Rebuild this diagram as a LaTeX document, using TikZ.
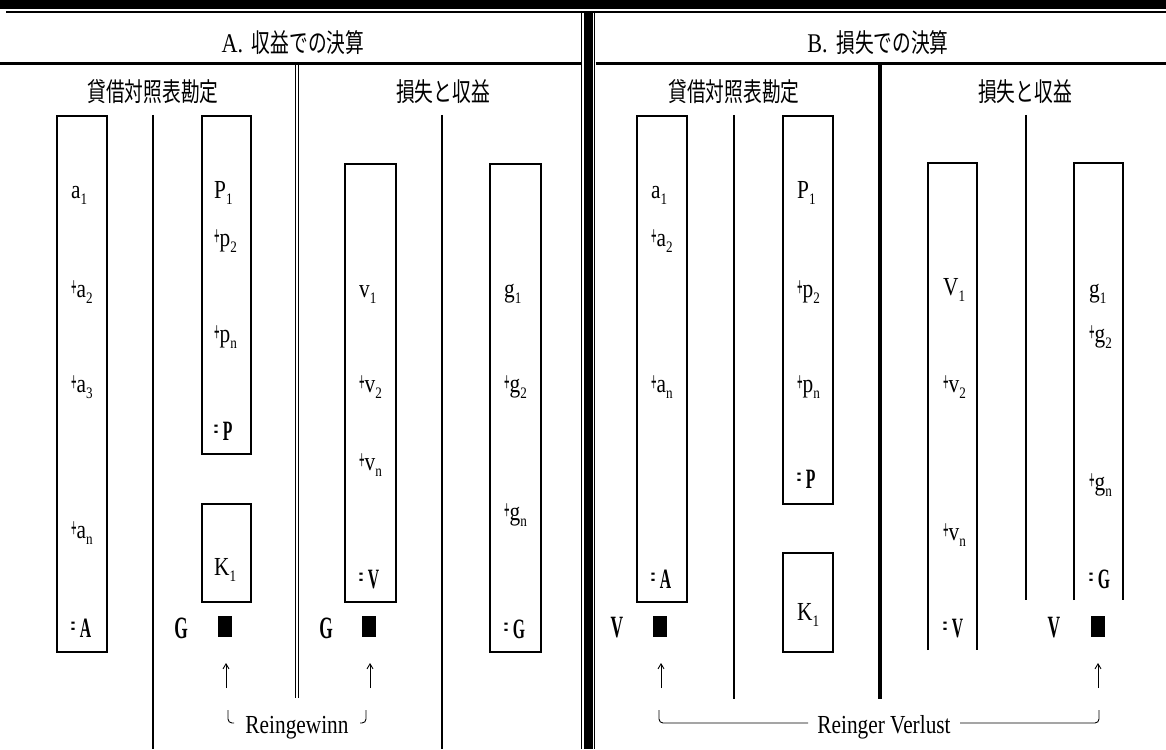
\documentclass[tikz,border=0pt]{standalone}
\usepackage{fontspec}
\newfontfamily\lat[FakeStretch=0.82]{Liberation Serif}
\newfontfamily\latb[FakeStretch=0.56]{Liberation Serif}
\newfontfamily\cjk[FakeStretch=0.72]{Noto Sans CJK JP}
\usetikzlibrary{arrows.meta}
\newcommand\lsub[1]{\raisebox{-6pt}{\fontsize{16}{16}\selectfont #1}}
\newcommand\lplus{\raisebox{1pt}{\scalebox{0.42}[1.0]{\fontsize{28}{28}\selectfont\bfseries +}}}
\newcommand\myeq{\raisebox{1pt}{\scalebox{0.45}[1.1]{\fontsize{28}{28}\selectfont =}}\,}
\tikzset{
  lab/.style={anchor=base west, inner sep=0pt, font=\lat\fontsize{26}{26}\selectfont},
  tot/.style={anchor=base west, inner sep=0pt, font=\latb\bfseries\fontsize{28}{28}\selectfont},
  bigl/.style={anchor=base, inner sep=0pt, font=\latb\bfseries\fontsize{31}{31}\selectfont},
  hdr/.style={inner sep=0pt, font=\cjk\fontsize{26}{26}\selectfont},
  brtext/.style={anchor=base, inner sep=0pt, font=\lat\fontsize{26}{26}\selectfont},
  acct/.style={draw, line width=2.2pt, inner sep=0pt, anchor=north west},
  rulel/.style={line width=2pt},
  sq/.style={fill=black, inner sep=0pt, minimum width=14pt, minimum height=21pt},
  arr/.style={line width=0.9pt, -{Straight Barb[length=5pt,width=6pt]}},
  brk/.style={line width=0.9pt, rounded corners=4pt}
}
\begin{document}
\begin{tikzpicture}[x=1pt,y=-1pt]
\useasboundingbox (0,0) rectangle (1166,749);
% frame rules
\fill (0,0) rectangle (1166,9);
\draw[line width=2pt] (6,12) -- (1166,12);
\draw[line width=3.5pt] (0,63.5) -- (580.5,63.5);
\draw[line width=3.5pt] (595.5,63.5) -- (1166,63.5);
\draw[line width=1.4pt] (581.3,12) -- (581.3,749);
\fill (584,12) rectangle (592.7,749);
\draw[line width=1.4pt] (594.7,12) -- (594.7,749);
% section dividers
\draw[line width=1.4pt] (295.3,65) -- (295.3,698);
\draw[line width=1.4pt] (298.5,65) -- (298.5,698);
\draw[line width=4.5pt] (880,65) -- (880,699);
% titles
\node[hdr] (tA) at (293,43) {{\lat\fontsize{27}{27}\selectfont A.}\,\,収益での決算};
\node[hdr] (tB) at (878,43) {{\lat\fontsize{27}{27}\selectfont B.}\,\,損失での決算};
\node[hdr] (hA1) at (153,92) {貸借対照表勘定};
\node[hdr] (hA2) at (443,92) {損失と収益};
\node[hdr] (hB1) at (734,92) {貸借対照表勘定};
\node[hdr] (hB2) at (1025,92) {損失と収益};
% inner vertical lines
\draw[rulel] (153,115) -- (153,749);
\draw[rulel] (442,115) -- (442,749);
\draw[rulel] (734,115) -- (734,699);
\draw[rulel] (1026,115) -- (1026,600);
% ---------- A ----------
\node[acct, minimum width=50pt, minimum height=536pt] (Aa) at (56,115) {};
\node[acct, minimum width=49pt, minimum height=338pt] (AP) at (201,115) {};
\node[acct, minimum width=49pt, minimum height=98pt] (AK) at (201,503) {};
\node[acct, minimum width=51pt, minimum height=438pt] (Av) at (344,163) {};
\node[acct, minimum width=51pt, minimum height=488pt] (Ag) at (489,163) {};
\node[lab] (Aa1) at (71,198) {a\lsub{1}};
\node[lab] (Aa2) at (71,297) {\lplus a\lsub{2}};
\node[lab] (Aa3) at (71,392) {\lplus a\lsub{3}};
\node[lab] (Aan) at (71,538) {\lplus a\lsub{n}};
\node[tot] (AA) at (71,637) {\myeq A};
\node[lab] (Ap1) at (214,198) {P\lsub{1}};
\node[lab] (Ap2) at (214,246) {\lplus p\lsub{2}};
\node[lab] (Apn) at (214,342) {\lplus p\lsub{n}};
\node[tot] (APt) at (214,440) {\myeq P};
\node[lab] (AK1) at (214,575) {K\lsub{1}};
\node[lab] (Av1) at (359,297) {v\lsub{1}};
\node[lab] (Av2) at (359,392) {\lplus v\lsub{2}};
\node[lab] (Avn) at (359,470) {\lplus v\lsub{n}};
\node[tot] (AVt) at (359,588) {\myeq V};
\node[lab] (Ag1) at (504,297) {g\lsub{1}};
\node[lab] (Ag2) at (504,392) {\lplus g\lsub{2}};
\node[lab] (Agn) at (504,520) {\lplus g\lsub{n}};
\node[tot] (AGt) at (504,638) {\myeq G};
\node[bigl] (AG1) at (181,638) {G};
\node[sq] (As1) at (225,626.5) {};
\node[bigl] (AG2) at (326,638) {G};
\node[sq] (As2) at (369,626.5) {};
\coordinate (Aar1t) at (226,688); \coordinate (Aar1h) at (226,663);
\coordinate (Aar2t) at (370,688); \coordinate (Aar2h) at (370,663);
\draw[arr] (Aar1t) -- (Aar1h);
\draw[arr] (Aar2t) -- (Aar2h);
\node[brtext] (RG) at (297,733) {Reingewinn};
\coordinate (Ab1) at (228,710); \coordinate (Ab1e) at (234,723);
\coordinate (Ab2) at (366,710); \coordinate (Ab2e) at (360,723);
\draw[brk] (Ab1) |- (Ab1e);
\draw[brk] (Ab2) |- (Ab2e);
% ---------- B ----------
\node[acct, minimum width=50pt, minimum height=486pt] (Ba) at (636,115) {};
\node[acct, minimum width=50pt, minimum height=388pt] (BP) at (782,115) {};
\node[acct, minimum width=50pt, minimum height=99pt] (BK) at (782,552) {};
\draw[line width=2.2pt] (928,650) -- (928,163) -- (977,163) -- (977,650);
\draw[line width=2.2pt] (1074,600) -- (1074,163) -- (1123,163) -- (1123,600);
\node[lab] (Ba1) at (651,198) {a\lsub{1}};
\node[lab] (Ba2) at (651,246) {\lplus a\lsub{2}};
\node[lab] (Ban) at (651,392) {\lplus a\lsub{n}};
\node[tot] (BA) at (651,588) {\myeq A};
\node[lab] (Bp1) at (797,198) {P\lsub{1}};
\node[lab] (Bp2) at (797,297) {\lplus p\lsub{2}};
\node[lab] (Bpn) at (797,392) {\lplus p\lsub{n}};
\node[tot] (BPt) at (797,488) {\myeq P};
\node[lab] (BK1) at (797,620) {K\lsub{1}};
\node[lab] (Bv1) at (943,295) {V\lsub{1}};
\node[lab] (Bv2) at (943,392) {\lplus v\lsub{2}};
\node[lab] (Bvn) at (943,540) {\lplus v\lsub{n}};
\node[tot] (BVt) at (943,637) {\myeq V};
\node[lab] (Bg1) at (1089,297) {g\lsub{1}};
\node[lab] (Bg2) at (1089,342) {\lplus g\lsub{2}};
\node[lab] (Bgn) at (1089,490) {\lplus g\lsub{n}};
\node[tot] (BGt) at (1089,588) {\myeq G};
\node[bigl] (BV1) at (617,637) {V};
\node[sq] (Bs1) at (660,626.5) {};
\node[bigl] (BV2) at (1054,637) {V};
\node[sq] (Bs2) at (1098,626.5) {};
\coordinate (Bar1t) at (661,688); \coordinate (Bar1h) at (661,663);
\coordinate (Bar2t) at (1098,688); \coordinate (Bar2h) at (1098,663);
\draw[arr] (Bar1t) -- (Bar1h);
\draw[arr] (Bar2t) -- (Bar2h);
\node[brtext] (RV) at (884,733) {Reinger Verlust};
\coordinate (Bb1) at (659,710); \coordinate (Bb1e) at (808,723);
\coordinate (Bb2) at (1099,710); \coordinate (Bb2e) at (960,723);
\draw[brk] (Bb1) |- (Bb1e);
\draw[brk] (Bb2) |- (Bb2e);
\end{tikzpicture}
\end{document}
